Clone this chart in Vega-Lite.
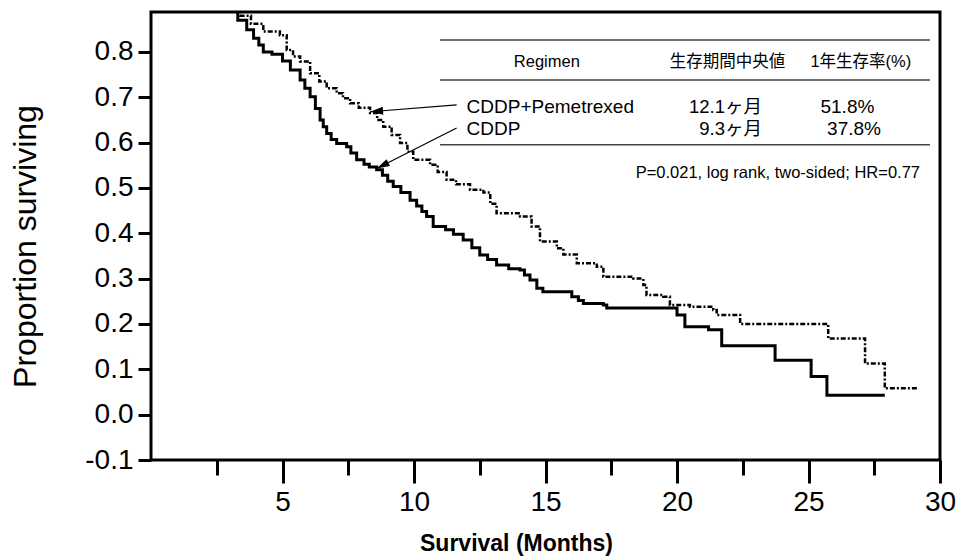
{
  "$schema": "https://vega.github.io/schema/vega-lite/v6.json",
  "width": 789,
  "height": 448,
  "autosize": {"type": "none"},
  "padding": {"left": 151, "top": 12, "right": 21, "bottom": 96},
  "background": "white",
  "config": {
    "view": {"stroke": "black", "strokeWidth": 3},
    "font": "Liberation Sans, Arial, sans-serif",
    "text": {"font": "Liberation Sans, Noto Sans CJK JP, sans-serif"}
  },
  "datasets": {
    "km": [
      {"group": "CDDP", "m": 0, "v": 1.0},
      {"group": "CDDP", "m": 0.5, "v": 0.99},
      {"group": "CDDP", "m": 1.0, "v": 0.975},
      {"group": "CDDP", "m": 1.5, "v": 0.96},
      {"group": "CDDP", "m": 2.0, "v": 0.94},
      {"group": "CDDP", "m": 2.5, "v": 0.915},
      {"group": "CDDP", "m": 3.0, "v": 0.89},
      {"group": "CDDP", "m": 3.3, "v": 0.87},
      {"group": "CDDP", "m": 3.64, "v": 0.849},
      {"group": "CDDP", "m": 3.9, "v": 0.83},
      {"group": "CDDP", "m": 4.1, "v": 0.815},
      {"group": "CDDP", "m": 4.27, "v": 0.8},
      {"group": "CDDP", "m": 4.6, "v": 0.795},
      {"group": "CDDP", "m": 5.0, "v": 0.78},
      {"group": "CDDP", "m": 5.3, "v": 0.76},
      {"group": "CDDP", "m": 5.67, "v": 0.738},
      {"group": "CDDP", "m": 5.85, "v": 0.72},
      {"group": "CDDP", "m": 6.05, "v": 0.701},
      {"group": "CDDP", "m": 6.25, "v": 0.675},
      {"group": "CDDP", "m": 6.43, "v": 0.65},
      {"group": "CDDP", "m": 6.55, "v": 0.635},
      {"group": "CDDP", "m": 6.68, "v": 0.62},
      {"group": "CDDP", "m": 6.85, "v": 0.607},
      {"group": "CDDP", "m": 7.06, "v": 0.598},
      {"group": "CDDP", "m": 7.44, "v": 0.591},
      {"group": "CDDP", "m": 7.6, "v": 0.577},
      {"group": "CDDP", "m": 7.82, "v": 0.562},
      {"group": "CDDP", "m": 8.1, "v": 0.552},
      {"group": "CDDP", "m": 8.3, "v": 0.546},
      {"group": "CDDP", "m": 8.58, "v": 0.54},
      {"group": "CDDP", "m": 8.8, "v": 0.528},
      {"group": "CDDP", "m": 9.0, "v": 0.515},
      {"group": "CDDP", "m": 9.21, "v": 0.503},
      {"group": "CDDP", "m": 9.5, "v": 0.49},
      {"group": "CDDP", "m": 9.85, "v": 0.473},
      {"group": "CDDP", "m": 10.1, "v": 0.46},
      {"group": "CDDP", "m": 10.3, "v": 0.448},
      {"group": "CDDP", "m": 10.48, "v": 0.437},
      {"group": "CDDP", "m": 10.73, "v": 0.415},
      {"group": "CDDP", "m": 11.2, "v": 0.408},
      {"group": "CDDP", "m": 11.5, "v": 0.398},
      {"group": "CDDP", "m": 11.87, "v": 0.385},
      {"group": "CDDP", "m": 12.2, "v": 0.368},
      {"group": "CDDP", "m": 12.5, "v": 0.352},
      {"group": "CDDP", "m": 12.8, "v": 0.342},
      {"group": "CDDP", "m": 13.14, "v": 0.33},
      {"group": "CDDP", "m": 13.6, "v": 0.322},
      {"group": "CDDP", "m": 14.03, "v": 0.319},
      {"group": "CDDP", "m": 14.2, "v": 0.308},
      {"group": "CDDP", "m": 14.41, "v": 0.297},
      {"group": "CDDP", "m": 14.67, "v": 0.279},
      {"group": "CDDP", "m": 14.9, "v": 0.271},
      {"group": "CDDP", "m": 16.0, "v": 0.26},
      {"group": "CDDP", "m": 16.25, "v": 0.252},
      {"group": "CDDP", "m": 16.44, "v": 0.245},
      {"group": "CDDP", "m": 17.2, "v": 0.242},
      {"group": "CDDP", "m": 17.33, "v": 0.235},
      {"group": "CDDP", "m": 20.0, "v": 0.22},
      {"group": "CDDP", "m": 20.3, "v": 0.194},
      {"group": "CDDP", "m": 21.2, "v": 0.187},
      {"group": "CDDP", "m": 21.7, "v": 0.152},
      {"group": "CDDP", "m": 23.73, "v": 0.12},
      {"group": "CDDP", "m": 25.1, "v": 0.084},
      {"group": "CDDP", "m": 25.7, "v": 0.043},
      {"group": "CDDP", "m": 27.9, "v": 0.043},
      {"group": "PEM", "m": 0, "v": 1.0},
      {"group": "PEM", "m": 0.5, "v": 0.995},
      {"group": "PEM", "m": 1.0, "v": 0.985},
      {"group": "PEM", "m": 1.5, "v": 0.97},
      {"group": "PEM", "m": 2.0, "v": 0.955},
      {"group": "PEM", "m": 2.5, "v": 0.935},
      {"group": "PEM", "m": 3.0, "v": 0.905},
      {"group": "PEM", "m": 3.38, "v": 0.88},
      {"group": "PEM", "m": 3.8, "v": 0.862},
      {"group": "PEM", "m": 4.27, "v": 0.845},
      {"group": "PEM", "m": 4.9, "v": 0.837},
      {"group": "PEM", "m": 5.16, "v": 0.804},
      {"group": "PEM", "m": 5.4, "v": 0.79},
      {"group": "PEM", "m": 5.67, "v": 0.779},
      {"group": "PEM", "m": 6.05, "v": 0.753},
      {"group": "PEM", "m": 6.4, "v": 0.735},
      {"group": "PEM", "m": 6.68, "v": 0.72},
      {"group": "PEM", "m": 7.06, "v": 0.709},
      {"group": "PEM", "m": 7.3, "v": 0.698},
      {"group": "PEM", "m": 7.57, "v": 0.687},
      {"group": "PEM", "m": 7.9, "v": 0.677},
      {"group": "PEM", "m": 8.33, "v": 0.665},
      {"group": "PEM", "m": 8.6, "v": 0.65},
      {"group": "PEM", "m": 8.83, "v": 0.635},
      {"group": "PEM", "m": 9.15, "v": 0.617},
      {"group": "PEM", "m": 9.47, "v": 0.599},
      {"group": "PEM", "m": 9.75, "v": 0.58},
      {"group": "PEM", "m": 9.97, "v": 0.562},
      {"group": "PEM", "m": 10.61, "v": 0.551},
      {"group": "PEM", "m": 10.9, "v": 0.535},
      {"group": "PEM", "m": 11.24, "v": 0.518},
      {"group": "PEM", "m": 11.6, "v": 0.508},
      {"group": "PEM", "m": 12.13, "v": 0.496},
      {"group": "PEM", "m": 12.64, "v": 0.49},
      {"group": "PEM", "m": 12.9, "v": 0.465},
      {"group": "PEM", "m": 13.14, "v": 0.444},
      {"group": "PEM", "m": 14.03, "v": 0.437},
      {"group": "PEM", "m": 14.47, "v": 0.415},
      {"group": "PEM", "m": 14.79, "v": 0.382},
      {"group": "PEM", "m": 15.43, "v": 0.367},
      {"group": "PEM", "m": 15.68, "v": 0.353},
      {"group": "PEM", "m": 16.19, "v": 0.334},
      {"group": "PEM", "m": 16.95, "v": 0.326},
      {"group": "PEM", "m": 17.2, "v": 0.304},
      {"group": "PEM", "m": 18.34, "v": 0.3},
      {"group": "PEM", "m": 18.72, "v": 0.286},
      {"group": "PEM", "m": 18.84, "v": 0.264},
      {"group": "PEM", "m": 19.48, "v": 0.26},
      {"group": "PEM", "m": 19.73, "v": 0.242},
      {"group": "PEM", "m": 20.49, "v": 0.238},
      {"group": "PEM", "m": 21.38, "v": 0.231},
      {"group": "PEM", "m": 21.51, "v": 0.22},
      {"group": "PEM", "m": 22.4, "v": 0.2},
      {"group": "PEM", "m": 25.75, "v": 0.168},
      {"group": "PEM", "m": 27.15, "v": 0.113},
      {"group": "PEM", "m": 27.9, "v": 0.058},
      {"group": "PEM", "m": 29.17, "v": 0.058}
    ],
    "rules": [
      {"m": 10.99, "m2": 29.62, "v": 0.826},
      {"m": 10.99, "m2": 29.62, "v": 0.738},
      {"m": 10.99, "m2": 29.62, "v": 0.595}
    ],
    "arrows": [
      {"id": "a1", "m": 11.62, "v": 0.683, "m2": 8.33, "v2": 0.668},
      {"id": "a2", "m": 11.62, "v": 0.632, "m2": 8.58, "v2": 0.543}
    ],
    "table": [
      {"role": "header", "text": "Regimen", "m": 15.05, "v": 0.767},
      {"role": "header", "text": "生存期間中央値", "m": 21.92, "v": 0.767},
      {"role": "header", "text": "1年生存率(%)", "m": 26.99, "v": 0.767},
      {"role": "label", "text": "CDDP+Pemetrexed", "m": 12.0, "v": 0.665},
      {"role": "label", "text": "CDDP", "m": 12.0, "v": 0.617},
      {"role": "median", "text": "12.1ヶ月", "m": 23.23, "v": 0.665},
      {"role": "median", "text": "9.3ヶ月", "m": 23.23, "v": 0.617},
      {"role": "rate", "text": "51.8%", "m": 26.48, "v": 0.665},
      {"role": "rate", "text": "37.8%", "m": 26.73, "v": 0.617},
      {"role": "pval", "text": "P=0.021, log rank, two-sided; HR=0.77", "m": 29.24, "v": 0.522}
    ]
  },
  "encoding": {
    "x": {
      "field": "m", "type": "quantitative", "title": "Survival (Months)",
      "scale": {"domain": [0, 30], "nice": false, "zero": false},
      "axis": {
        "values": [2.5, 5, 7.5, 10, 12.5, 15, 17.5, 20, 22.5, 25, 27.5, 30],
        "labelExpr": "datum.value % 5 === 0 ? datum.label : ''",
        "tickSize": {"condition": {"test": "datum.value % 5 === 0", "value": 23}, "value": 15},
        "tickWidth": 3, "tickColor": "black", "domain": false, "grid": false,
        "labelFontSize": 28, "labelColor": "black", "labelPadding": 5,
        "labelFlush": false, "labelOverlap": false,
        "titleFontSize": 23, "titleFontWeight": "bold", "titleColor": "black",
        "titleX": 365, "titleY": 90, "titleBaseline": "alphabetic", "titleAlign": "center"
      }
    },
    "y": {
      "field": "v", "type": "quantitative", "title": "Proportion surviving",
      "scale": {"domain": [-0.1, 0.888], "nice": false, "zero": false},
      "axis": {
        "values": [-0.1, 0, 0.1, 0.2, 0.3, 0.4, 0.5, 0.6, 0.7, 0.8],
        "labelExpr": "datum.value < 0 ? '-' + format(-datum.value, '.1f') : format(datum.value, '.1f')",
        "tickSize": 13, "tickWidth": 3, "tickColor": "black", "domain": false, "grid": false,
        "labelFontSize": 28, "labelColor": "black", "labelPadding": 5,
        "labelFlush": false, "labelOverlap": false,
        "titleFontSize": 32, "titleFontWeight": "normal", "titleColor": "black",
        "titleX": -116, "titleY": 234, "titleAngle": 270, "titleBaseline": "alphabetic", "titleAlign": "center"
      }
    }
  },
  "layer": [
    {
      "data": {"name": "km"},
      "transform": [{"filter": "datum.group === 'CDDP'"}],
      "mark": {"type": "line", "interpolate": "step-after", "color": "black", "strokeWidth": 3, "clip": true}
    },
    {
      "data": {"name": "km"},
      "transform": [{"filter": "datum.group === 'PEM'"}],
      "mark": {"type": "line", "interpolate": "step-after", "color": "black", "strokeWidth": 2.5, "strokeDash": [5, 2, 2, 2], "clip": true}
    },
    {
      "data": {"name": "rules"},
      "mark": {"type": "rule", "color": "#444444", "strokeWidth": 1.5},
      "encoding": {"x2": {"field": "m2"}}
    },
    {
      "data": {"name": "arrows"},
      "mark": {"type": "rule", "color": "black", "strokeWidth": 1.2},
      "encoding": {"x2": {"field": "m2"}, "y2": {"field": "v2"}}
    },
    {
      "data": {"name": "arrows"},
      "transform": [{"filter": "datum.id === 'a1'"}],
      "mark": {"type": "point", "shape": "M0,0L2,-0.6L2,0.6Z", "size": 169, "filled": true, "color": "black", "opacity": 1, "angle": -4.4},
      "encoding": {
        "x": {"field": "m2", "type": "quantitative", "title": "Survival (Months)"},
        "y": {"field": "v2", "type": "quantitative", "title": "Proportion surviving"}
      }
    },
    {
      "data": {"name": "arrows"},
      "transform": [{"filter": "datum.id === 'a2'"}],
      "mark": {"type": "point", "shape": "M0,0L2,-0.6L2,0.6Z", "size": 169, "filled": true, "color": "black", "opacity": 1, "angle": -26.6},
      "encoding": {
        "x": {"field": "m2", "type": "quantitative", "title": "Survival (Months)"},
        "y": {"field": "v2", "type": "quantitative", "title": "Proportion surviving"}
      }
    },
    {
      "data": {"name": "table"},
      "transform": [{"filter": "datum.role === 'header'"}],
      "mark": {"type": "text", "align": "center", "baseline": "alphabetic", "fontSize": 16.5, "color": "black"},
      "encoding": {"text": {"field": "text"}}
    },
    {
      "data": {"name": "table"},
      "transform": [{"filter": "datum.role === 'label'"}],
      "mark": {"type": "text", "align": "left", "baseline": "alphabetic", "fontSize": 19, "color": "black"},
      "encoding": {"text": {"field": "text"}}
    },
    {
      "data": {"name": "table"},
      "transform": [{"filter": "datum.role === 'median'"}],
      "mark": {"type": "text", "align": "right", "baseline": "alphabetic", "fontSize": 18.5, "color": "black"},
      "encoding": {"text": {"field": "text"}}
    },
    {
      "data": {"name": "table"},
      "transform": [{"filter": "datum.role === 'rate'"}],
      "mark": {"type": "text", "align": "center", "baseline": "alphabetic", "fontSize": 19, "color": "black"},
      "encoding": {"text": {"field": "text"}}
    },
    {
      "data": {"name": "table"},
      "transform": [{"filter": "datum.role === 'pval'"}],
      "mark": {"type": "text", "align": "right", "baseline": "alphabetic", "fontSize": 16.5, "color": "black"},
      "encoding": {"text": {"field": "text"}}
    }
  ]
}
